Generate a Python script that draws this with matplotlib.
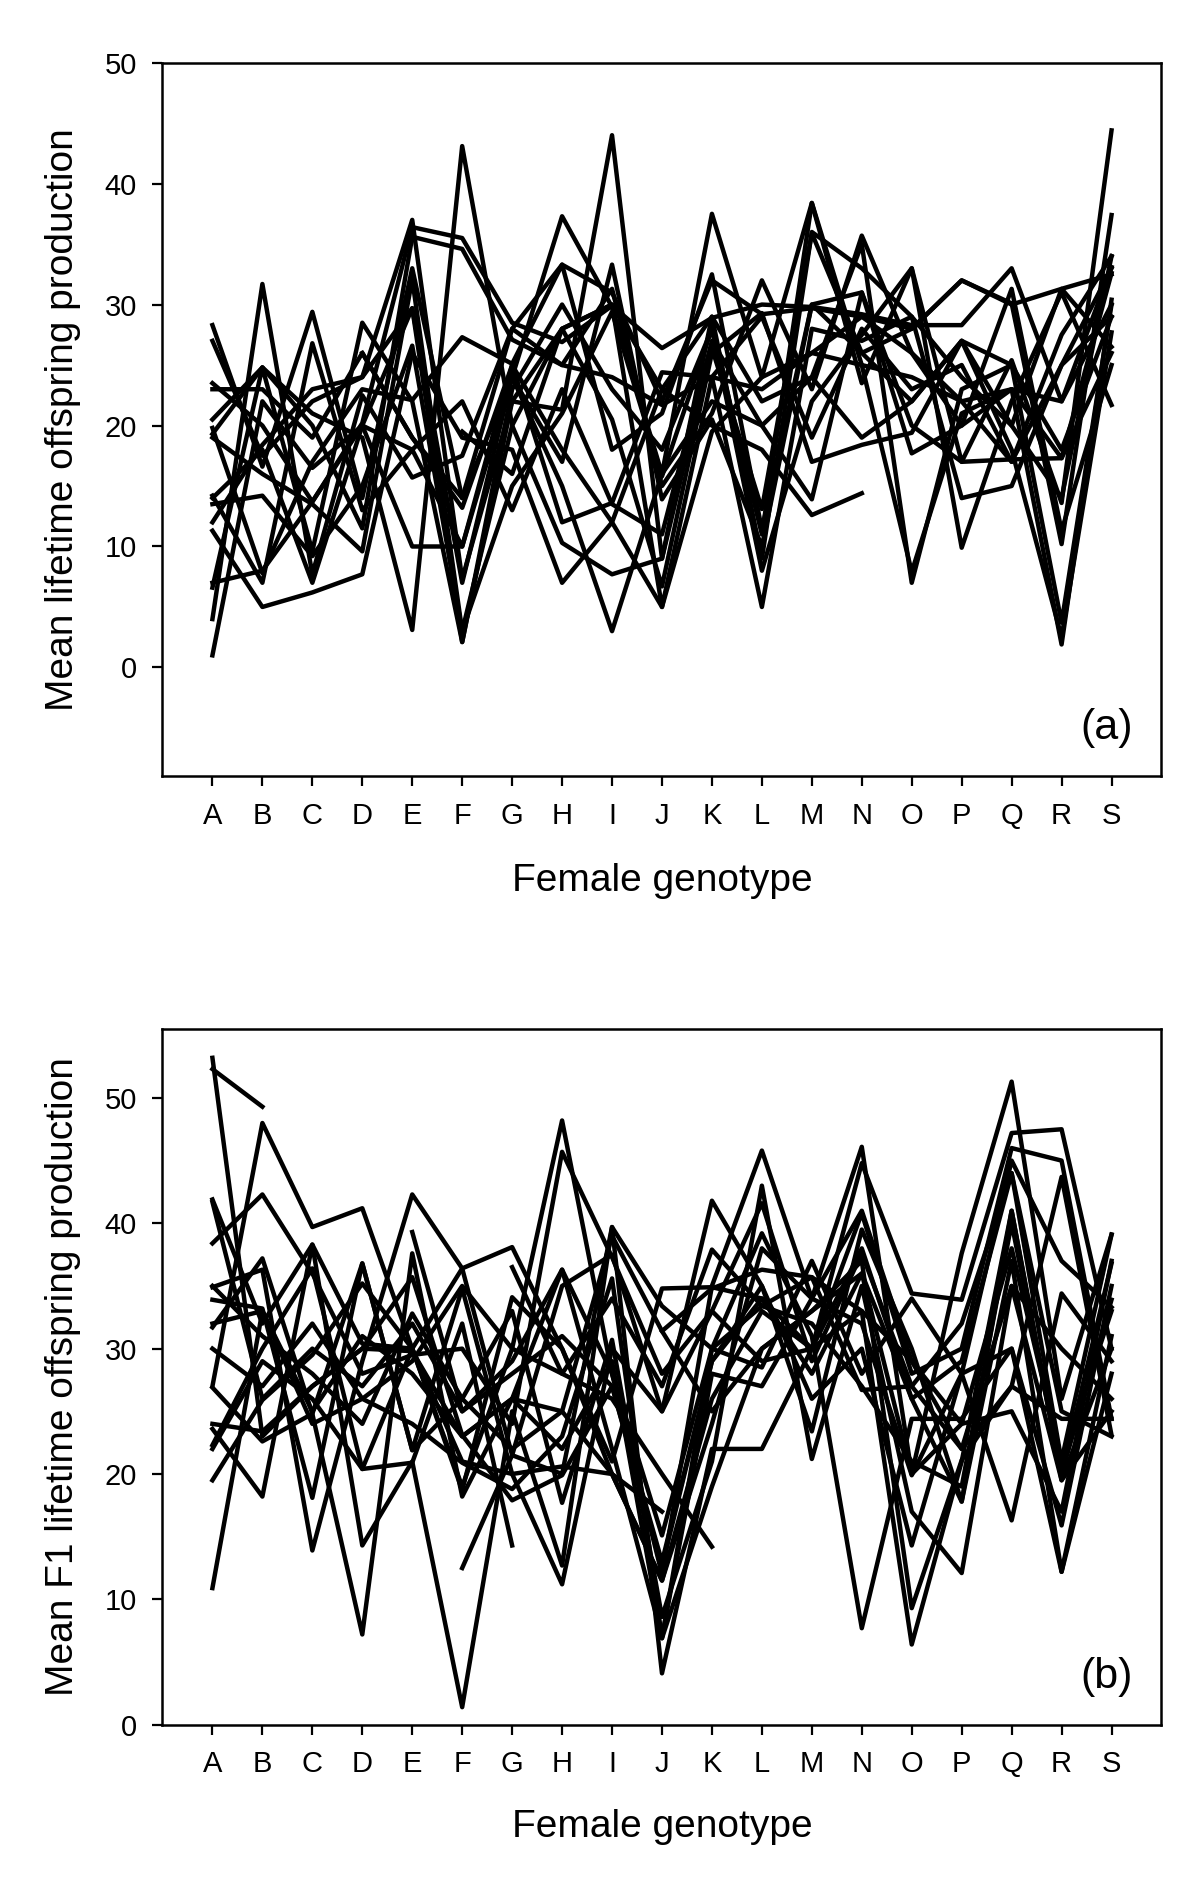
import numpy as np
import matplotlib
matplotlib.use("Agg")
import matplotlib.pyplot as plt

nan = np.nan
genotypes = list("ABCDEFGHIJKLMNOPQRS")

# panel (a): mean lifetime offspring production, one list per male line
top_lines = [
    [1.0, 22.0, 16.5, 20.0, 29.7, 2.1, 22.0, 28.0, 30.0, 5.0, 24.0, 23.0, 26.0, 29.0, 26.0, 20.0, 23.0, 1.9, 30.4],
    [28.3, 16.6, 29.4, 14.0, 33.0, 14.0, 24.0, 37.3, 29.8, 16.0, 37.5, 24.0, 38.4, 23.5, 33.0, 17.0, 25.4, 13.6, 44.4],
    [27.0, 17.5, 22.0, 24.0, 37.0, 7.3, 22.0, 21.3, 44.0, 9.0, 26.4, 13.1, 35.9, 26.0, 22.0, 27.0, 20.0, 31.3, 26.5],
    [23.5, 20.0, 13.7, 20.2, 36.4, 35.5, 28.5, 26.9, 29.9, 26.4, 28.9, 30.0, 29.8, 29.2, 28.3, 28.3, 33.0, 22.0, 33.1],
    [20.5, 24.8, 20.0, 11.5, 35.6, 34.6, 27.1, 25.0, 31.3, 15.0, 21.0, 32.0, 23.0, 35.7, 26.0, 22.0, 17.0, 27.5, 34.0],
    [19.8, 7.8, 17.0, 23.0, 22.1, 27.3, 25.1, 33.3, 18.0, 21.0, 32.5, 11.4, 30.0, 26.0, 28.0, 32.0, 30.1, 10.2, 37.4],
    [19.3, 24.8, 21.0, 19.0, 3.1, 43.1, 20.0, 10.3, 7.7, 9.0, 29.0, 22.0, 24.0, 35.0, 7.0, 23.0, 25.0, 3.7, 30.0],
    [14.2, 7.0, 26.8, 13.0, 18.0, 10.0, 25.0, 12.0, 13.6, 24.4, 24.0, 5.0, 28.0, 27.0, 29.0, 14.0, 15.0, 25.0, 29.0],
    [13.5, 14.2, 9.2, 15.0, 26.6, 3.0, 20.0, 28.0, 20.5, 6.7, 26.0, 29.3, 17.0, 18.4, 19.4, 27.0, 18.0, 2.5, 27.7],
    [12.0, 18.4, 23.0, 24.0, 29.7, 7.0, 24.0, 17.0, 33.3, 13.9, 20.5, 10.0, 30.0, 31.0, 17.7, 20.0, 31.3, 11.3, 25.0],
    [11.3, 5.0, 6.2, 7.7, 26.0, 19.0, 18.0, 7.0, 12.0, 5.0, 19.5, 24.0, 26.0, 25.0, 24.0, 22.0, 23.0, 17.3, 32.6],
    [7.0, 8.0, 13.7, 20.0, 10.0, 10.0, 24.0, 15.0, 3.0, 16.0, 22.0, 20.0, 13.9, 31.0, 20.0, 17.0, 17.2, 17.3, 26.0],
    [6.6, 24.8, 9.6, 28.5, 22.0, 2.1, 23.0, 30.0, 23.0, 18.0, 28.0, 8.0, 22.0, 27.5, 33.0, 9.9, 22.0, 31.0, 21.7],
    [4.0, 31.7, 7.7, 22.5, 15.7, 17.5, 28.0, 25.0, 24.0, 21.7, 24.0, 29.0, 19.0, 28.0, 23.0, 25.0, 17.0, 25.0, 33.0],
    [19.0, 16.0, 13.5, 9.6, 32.1, 3.0, 15.0, 21.0, 29.4, 15.8, 28.0, 11.0, 38.4, 25.0, 7.9, 21.0, 23.0, 22.0, 30.0],
    [14.0, 18.0, 7.0, 20.0, 18.0, 22.0, 13.0, 23.0, 13.5, 11.0, 27.0, 20.0, 24.0, 19.0, 22.0, 27.0, 25.0, 18.0, 29.0],
    [23.0, 23.0, 19.0, 26.0, 19.0, 13.2, 25.0, 18.0, 12.0, 23.0, 20.0, 18.0, 12.6, 14.4, nan, nan, nan, nan, nan],
    [nan, nan, nan, nan, nan, 19.5, 16.0, 28.0, 30.0, 23.0, 29.0, 9.0, 36.0, 33.0, 29.0, 24.0, 20.0, 14.0, 34.0],
    [nan, nan, nan, 26.0, 19.0, 14.0, 28.0, 33.3, 31.0, 22.0, 32.0, 29.2, 29.7, 29.0, 28.0, 32.0, 30.0, 31.3, 32.5],
]

# panel (b): mean F1 lifetime offspring production
bottom_lines = [
    [53.2, 23.0, 27.0, 30.0, 29.8, 23.0, 26.0, 25.0, 20.0, 11.5, 26.0, 33.0, 30.0, 38.0, 26.0, 29.0, 44.0, 21.0, 33.0],
    [52.3, 49.3, nan, nan, nan, nan, nan, nan, nan, nan, nan, nan, nan, nan, nan, nan, nan, nan, nan],
    [27.0, 48.0, 39.7, 41.2, 30.0, 19.0, 30.0, 48.2, 28.0, 12.0, 35.0, 45.8, 34.0, 46.1, 20.0, 37.6, 51.3, 26.0, 39.1],
    [38.4, 42.3, 36.0, 28.0, 29.5, 30.0, 24.0, 45.7, 37.3, 28.0, 33.0, 29.0, 30.0, 44.8, 34.4, 33.9, 47.2, 47.5, 30.0],
    [41.9, 32.0, 38.3, 30.4, 30.0, 36.4, 38.1, 30.0, 21.0, 34.8, 34.9, 34.0, 30.0, 40.8, 28.0, 30.0, 46.0, 45.0, 24.4],
    [34.9, 36.3, 13.9, 29.0, 42.3, 36.4, 21.5, 20.0, 39.7, 33.4, 30.0, 28.5, 37.0, 28.0, 34.0, 28.0, 45.0, 37.0, 33.3],
    [33.9, 33.2, 18.1, 36.8, 21.9, 34.8, 20.0, 11.2, 30.0, 25.0, 41.8, 35.0, 23.4, 39.5, 30.0, 17.8, 37.0, 12.2, 31.0],
    [31.7, 37.2, 24.8, 7.2, 37.6, 18.2, 26.0, 36.3, 28.0, 15.1, 30.0, 39.2, 31.0, 7.7, 24.4, 24.4, 30.0, 15.9, 35.0],
    [23.6, 18.2, 38.3, 14.3, 21.0, 1.4, 25.0, 12.7, 39.7, 4.1, 22.0, 22.0, 30.0, 33.0, 6.4, 21.0, 41.0, 20.0, 36.8],
    [22.3, 30.0, 36.4, 20.4, 20.9, 32.0, 14.3, nan, nan, nan, nan, nan, nan, nan, nan, nan, nan, nan, nan],
    [nan, nan, nan, nan, nan, 12.5, 21.5, 35.0, 37.5, 25.0, 33.0, 41.6, 29.0, 37.6, 27.0, 22.0, 35.0, 19.5, 30.0],
    [19.5, 25.9, 29.5, 35.2, 30.0, 18.7, 34.1, 30.0, 20.0, 17.0, nan, nan, nan, nan, nan, nan, nan, nan, nan],
    [10.9, 33.0, 24.0, 26.0, 24.0, 20.9, 18.8, 23.0, 35.6, 6.9, 19.0, 30.0, 33.0, 37.0, 9.3, 21.1, 27.0, 43.7, 23.1],
    [26.9, 22.6, 24.8, 36.8, 21.9, 26.0, 33.0, 17.7, 30.7, 8.6, 21.0, 43.0, 21.2, 35.0, 17.0, 12.1, 35.0, 30.0, 26.0],
    [24.0, 23.4, 27.0, 30.0, 35.7, 23.1, 17.9, 19.9, 27.0, 12.6, 29.0, 35.0, 26.0, 30.0, 14.3, 28.0, 16.3, 34.4, 29.0],
    [22.0, 29.0, 26.0, 20.4, 30.0, 21.0, 20.0, 20.6, 20.0, 11.5, 24.0, 38.0, 34.0, 32.0, 19.9, 28.0, 30.0, 12.2, 28.0],
    [35.0, 31.0, 28.0, 24.0, 32.8, 26.0, 22.0, 25.0, 39.0, 31.4, 25.0, 30.0, 33.0, 36.0, 20.0, 24.0, 25.0, 17.0, 37.0],
    [nan, nan, nan, nan, 39.3, 25.0, 28.0, 31.0, 27.0, 13.0, 29.0, 34.0, 28.0, 36.0, 26.0, 17.8, 41.0, 19.5, 25.0],
    [41.7, 26.0, 30.0, 27.0, 32.0, 25.0, 29.0, 36.3, 22.0, 7.0, 28.0, 27.0, 34.0, 41.0, 29.0, 24.0, 38.0, 21.1, 39.1],
    [nan, nan, nan, nan, nan, nan, 36.5, 28.0, 34.0, 27.0, 37.9, 33.4, 35.7, 26.7, 27.0, 32.0, 44.0, 25.0, 23.0],
    [nan, nan, nan, nan, nan, nan, nan, nan, nan, 31.4, 34.8, 36.3, 35.7, 33.0, 29.0, 22.0, 27.0, 24.4, 24.4],
    [30.0, 27.0, 32.0, 26.0, 29.0, 35.0, 30.0, 28.0, 26.0, 20.0, 14.2, nan, nan, nan, nan, nan, nan, nan, nan],
    [32.0, 33.0, 25.0, 31.0, 28.0, 23.0, 26.0, 22.0, 29.0, 6.9, 30.0, 33.4, 32.0, 27.0, 21.0, 19.0, 40.0, 20.0, 33.9],
]

plt.rcParams["font.family"] = ["Liberation Sans", "DejaVu Sans"]

fig = plt.figure(figsize=(12, 18.87), dpi=100)
x = np.arange(len(genotypes))

panels = [
    (top_lines, [0.1354, 0.5886, 0.8325, 0.3782], (-9, 50), "Mean lifetime offspring production", "(a)", 0.533),
    (bottom_lines, [0.1354, 0.0860, 0.8325, 0.3687], (0, 55.5), "Mean F1 lifetime offspring production", "(b)", 0.032),
]

for lines, rect, ylim, ylab, tag, xlab_y in panels:
    ax = fig.add_axes(rect)
    for vals in lines:
        ax.plot(x, np.array(vals, dtype=float), color="black", lw=3.2)
    ax.set_xlim(-1, 19)
    ax.set_ylim(*ylim)
    ax.set_xticks(x)
    ax.set_xticklabels(genotypes)
    ax.set_yticks([0, 10, 20, 30, 40, 50])
    ax.tick_params(direction="out", length=7.5, width=1.6, labelsize=21, pad=11)
    for s in ax.spines.values():
        s.set_linewidth(1.8)
    ax.text(0.945, 0.068, tag, transform=ax.transAxes, fontsize=31, ha="center", va="center")
    cy = rect[1] + rect[3] / 2
    fig.text(0.0525, cy, ylab, rotation=90, fontsize=28, ha="center", va="center")
    fig.text(rect[0] + rect[2] / 2, xlab_y, "Female genotype", fontsize=28, ha="center", va="center")

fig.savefig("out.png", dpi=100)
